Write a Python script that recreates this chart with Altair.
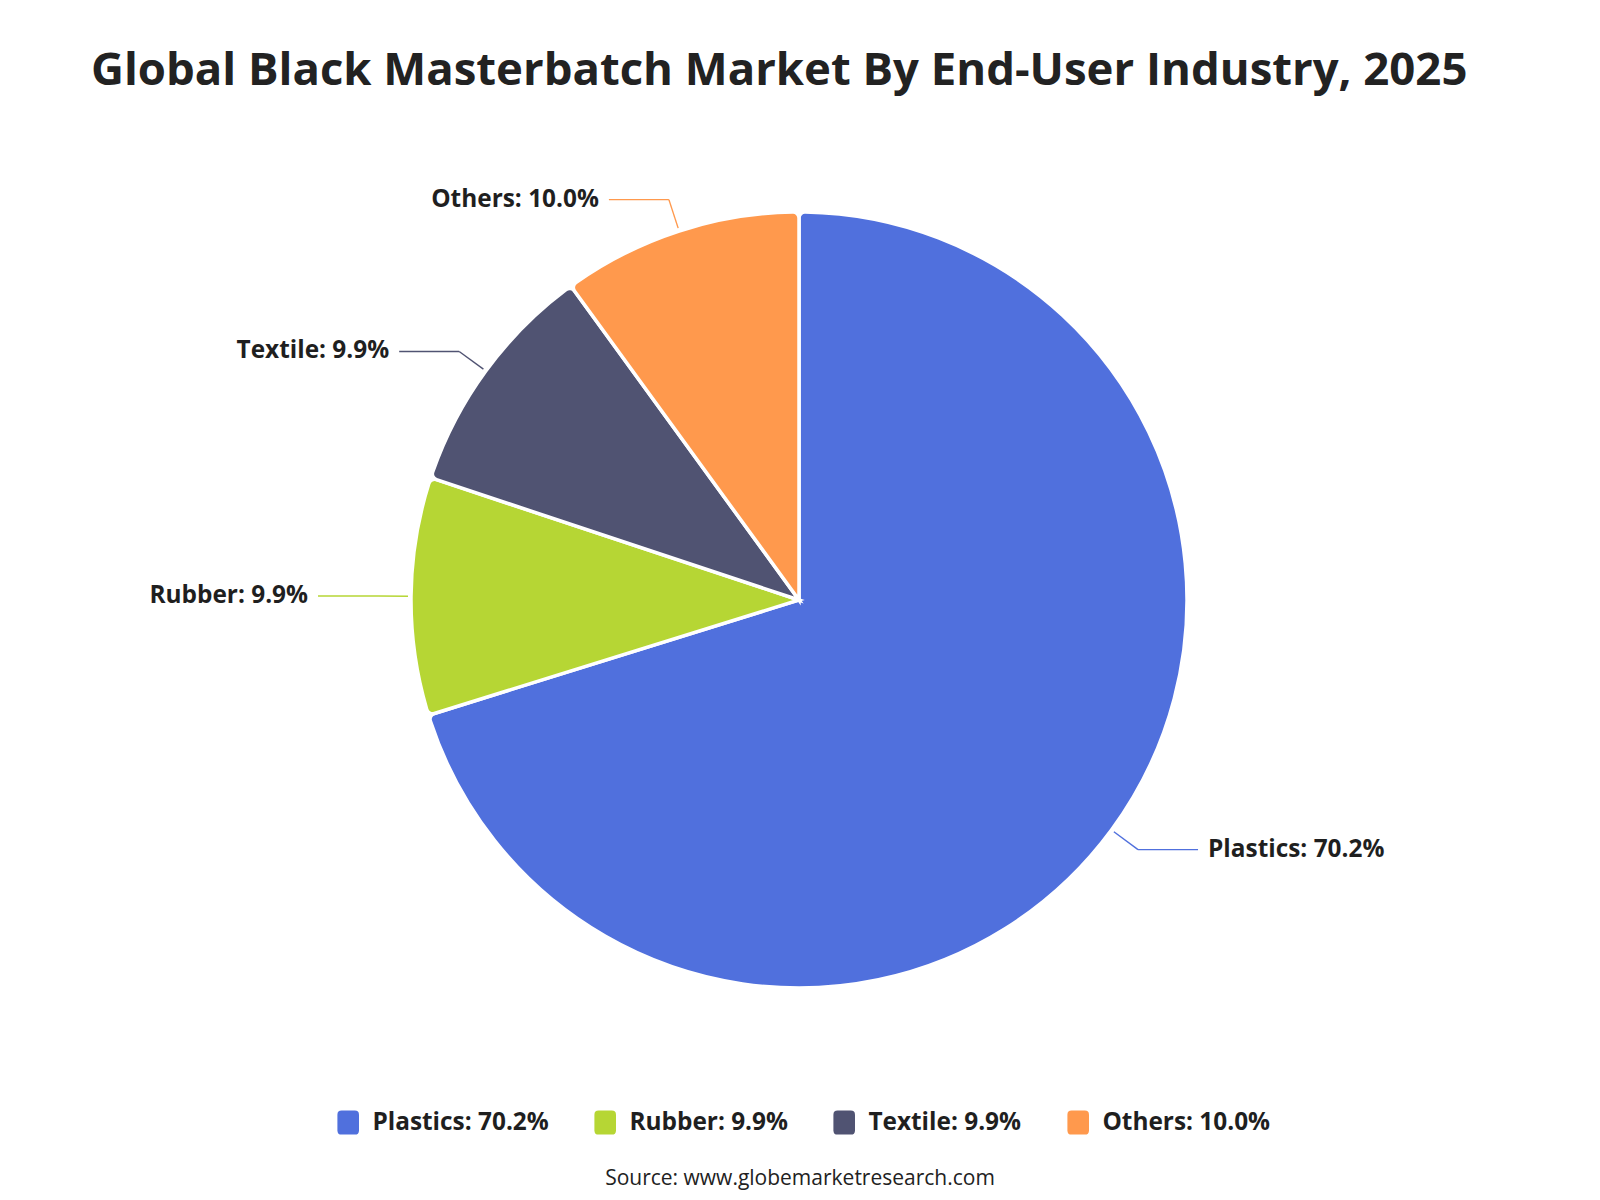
import altair as alt
import pandas as pd

# Market share by end-user industry (percent)
categories = ["Plastics", "Rubber", "Textile", "Others"]
shares = [70.2, 9.9, 9.9, 10.0]
palette = ["#5070dd", "#b6d634", "#505372", "#ff994d"]

title_text = "Global Black Masterbatch Market By End-User Industry, 2025"
source_text = "Source: www.globemarketresearch.com"

# Canvas / pie geometry (pixels)
W, H = 1598, 1200
CX, CY = W / 2, H / 2
R = 388            # pie radius
LINE_R0 = 391      # leader line start radius
LINE_R1 = 421      # leader line bend radius
LINE_LEN = 60      # horizontal leader segment
LABEL_GAP = 10
FONT = "Open Sans"
TEXT_COLOR = "#1f1f1f"
LABEL_SIZE = 24.4

labels = [f"{c}: {s:.1f}%" for c, s in zip(categories, shares)]
df = pd.DataFrame({
    "idx": list(range(len(categories))),
    "category": categories,
    "share": shares,
    "label": labels,
})

# rounded square legend symbol
rounded_square = ("M -0.55 -1 H 0.55 Q 0.9 -1 0.9 -0.65 V 0.65 Q 0.9 1 0.55 1 "
                  "H -0.55 Q -0.9 1 -0.9 0.65 V -0.65 Q -0.9 -1 -0.55 -1 Z")

color = alt.Color(
    "label:N",
    scale=alt.Scale(domain=labels, range=palette),
    legend=alt.Legend(
        orient="none", legendX=336, legendY=1110, direction="horizontal",
        title=None, padding=0, symbolType=rounded_square, symbolSize=576,
        symbolStrokeWidth=0, labelFont=FONT, labelFontSize=LABEL_SIZE,
        labelFontWeight="bold", labelColor=TEXT_COLOR, labelOffset=12,
        columnPadding=44, labelLimit=0,
    ),
)

arcs = alt.Chart(df).mark_arc(
    radius=R, cornerRadius=6, stroke="white", strokeWidth=3.5
).encode(
    theta=alt.Theta("share:Q", stack=True),
    color=color,
    order=alt.Order("idx:Q"),
)

xs = alt.Scale(domain=[0, W], nice=False, zero=False)
ys = alt.Scale(domain=[0, H], nice=False, zero=False, reverse=True)

geo = (
    alt.Chart(df)
    .transform_window(cum="sum(share)", sort=[alt.SortField("idx")], frame=[None, 0])
    .transform_joinaggregate(total="sum(share)")
    .transform_calculate(mid="2 * PI * (datum.cum - datum.share / 2) / datum.total")
    .transform_calculate(side="sin(datum.mid) >= 0 ? 1 : -1")
    .transform_calculate(x0=f"{CX} + {LINE_R0} * sin(datum.mid)")
    .transform_calculate(y0=f"{CY} - {LINE_R0} * cos(datum.mid)")
    .transform_calculate(x1=f"{CX} + {LINE_R1} * sin(datum.mid)")
    .transform_calculate(y1=f"{CY} - {LINE_R1} * cos(datum.mid)")
    .transform_calculate(x2=f"datum.x1 + datum.side * {LINE_LEN}")
    .transform_calculate(tx=f"datum.x2 + datum.side * {LABEL_GAP}")
)

stroke = alt.Stroke("label:N", scale=alt.Scale(domain=labels, range=palette), legend=None)

leader_a = geo.mark_rule(strokeWidth=1.4).encode(
    x=alt.X("x0:Q", scale=xs, axis=None),
    y=alt.Y("y0:Q", scale=ys, axis=None),
    x2="x1:Q", y2="y1:Q", stroke=stroke,
)
leader_b = geo.mark_rule(strokeWidth=1.4).encode(
    x=alt.X("x1:Q", scale=xs, axis=None),
    y=alt.Y("y1:Q", scale=ys, axis=None),
    x2="x2:Q", y2="y1:Q", stroke=stroke,
)

label_style = dict(baseline="middle", font=FONT, fontSize=LABEL_SIZE,
                   fontWeight="bold", color=TEXT_COLOR)
labels_right = geo.transform_filter("datum.side > 0").mark_text(
    align="left", **label_style
).encode(x=alt.X("tx:Q", scale=xs, axis=None), y=alt.Y("y1:Q", scale=ys, axis=None),
         text="label:N")
labels_left = geo.transform_filter("datum.side < 0").mark_text(
    align="right", **label_style
).encode(x=alt.X("tx:Q", scale=xs, axis=None), y=alt.Y("y1:Q", scale=ys, axis=None),
         text="label:N")

title = alt.Chart(pd.DataFrame({"t": [title_text]})).mark_text(
    align="left", baseline="middle", font=FONT, fontSize=45.5,
    fontWeight="bold", color="#222222",
).encode(x=alt.value(91), y=alt.value(71), text="t:N")

source = alt.Chart(pd.DataFrame({"t": [source_text]})).mark_text(
    align="center", baseline="middle", font=FONT, fontSize=21,
    fontWeight=500, color="#222222",
).encode(x=alt.value(800), y=alt.value(1179), text="t:N")

chart = alt.layer(
    arcs, leader_a, leader_b, labels_left, labels_right, title, source
).properties(
    width=W, height=H, padding=0,
    autosize=alt.AutoSizeParams(type="none"),
).configure_view(stroke=None)

chart.save("out.html", embed_options={"renderer": "svg", "actions": False})
